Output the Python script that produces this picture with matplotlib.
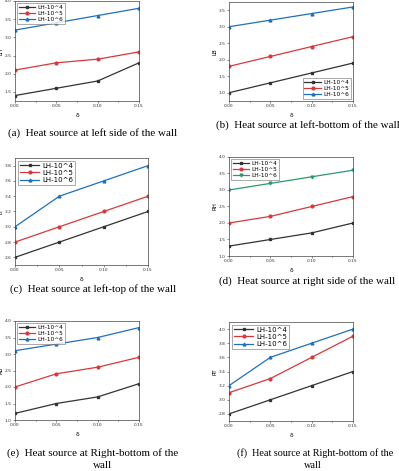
import matplotlib
matplotlib.use("Agg")
import matplotlib.pyplot as plt
from matplotlib.ticker import MultipleLocator, FormatStrFormatter

W, H = 399, 471
delta = [0.00, 0.05, 0.10, 0.15]
series_names = ["LH-10^4", "LH-10^5", "LH-10^6"]

LH = [[1.4, 1.6, 1.8, 2.3], [2.1, 2.3, 2.4, 2.6], [3.2, 3.4, 3.6, 3.8]]
LB = [[1.0, 1.3, 1.6, 1.9], [1.8, 2.1, 2.4, 2.7], [3.0, 3.2, 3.4, 3.6]]
LT = [[2.6, 2.8, 3.0, 3.2], [2.8, 3.0, 3.2, 3.4], [3.0, 3.4, 3.6, 3.8]]
RH = [[1.3, 1.5, 1.7, 2.0], [2.0, 2.2, 2.5, 2.8], [3.0, 3.2, 3.4, 3.6]]
RB = [[1.2, 1.5, 1.7, 2.1], [2.0, 2.4, 2.6, 2.9], [3.1, 3.3, 3.5, 3.8]]
RT = [[2.8, 3.0, 3.2, 3.4], [3.1, 3.3, 3.6, 3.9], [3.2, 3.6, 3.8, 4.0]]

captions = [
    ["(a)  Heat source at left side of the wall"],
    ["(b)  Heat source at left-bottom of the wall"],
    ["(c)  Heat source at left-top of the wall"],
    ["(d)  Heat source at right side of the wall"],
    ["(e)  Heat source at Right-bottom of the", "wall"],
    ["(f)  Heat source at Right-bottom of the", "wall"],
]

fig = plt.figure(figsize=(W / 100, H / 100), dpi=100)

def box(l, r, t, b):
    return [l / W, 1 - b / H, (r - l) / W, (b - t) / H]

panels = [
    dict(data=LH, lab="LH", rect=box(15, 139, 1, 101), ylim=(1.25, 4.0), ymaj=0.5,
         third="#1f6fc0", loc="upper left", cap=[(93, 133)], cfs=7.9),
    dict(data=LB, lab="LB", rect=box(229, 353, 2, 101), ylim=(0.75, 3.75), ymaj=0.5,
         third="#1f6fc0", loc="lower right", cap=[(308, 125)], cfs=7.9),
    dict(data=LT, lab="LT", rect=box(15, 148, 158, 265), ylim=(2.5, 3.9), ymaj=0.2,
         third="#1f6fc0", loc="upper left", cap=[(93, 289)], cfs=7.9),
    dict(data=RH, lab="RH", rect=box(229, 353, 157, 256), ylim=(1.0, 4.0), ymaj=0.5,
         third="#2a9a6a", loc="upper left", cap=[(307, 281)], cfs=7.9),
    dict(data=RB, lab="RB", rect=box(15, 139, 321, 420), ylim=(1.0, 4.0), ymaj=0.5,
         third="#1f6fc0", loc="upper left", cap=[(93, 453), (103, 465)], cfs=7.9),
    dict(data=RT, lab="RT", rect=box(229, 353, 322, 421), ylim=(2.7, 4.1), ymaj=0.2,
         third="#1f6fc0", loc="upper left", cap=[(315, 453), (313, 466)], cfs=7.3),
]

markers = ["s", "o", "^"]
for i, p in enumerate(panels):
    ax = fig.add_axes(p["rect"])
    colors = ["#333333", "#d9383a", p["third"]]
    mk = list(markers)
    if p["lab"] == "RH":
        mk[2] = "v"
    for k in range(3):
        ax.plot(delta, p["data"][k], color=colors[k], marker=mk[k], markersize=2.0,
                linewidth=0.9, label=series_names[k])
    ax.set_xlim(0.0, 0.15)
    ax.set_ylim(*p["ylim"])
    ax.set_xticks(delta)
    ax.xaxis.set_minor_locator(MultipleLocator(0.025))
    ax.yaxis.set_major_locator(MultipleLocator(p["ymaj"]))
    ax.yaxis.set_major_formatter(FormatStrFormatter("%.1f"))
    ax.xaxis.set_major_formatter(FormatStrFormatter("%.2f"))
    ax.tick_params(labelsize=3.2, length=1.5, width=0.4, pad=1.0, colors="#333333")
    ax.tick_params(which="minor", length=1.0, width=0.4)
    for s in ax.spines.values():
        s.set_linewidth(0.5)
        s.set_color("#444444")
    ax.set_ylabel(p["lab"], fontsize=4.0, labelpad=0.5)
    ax.set_xlabel("δ", fontsize=4.2, labelpad=3)
    fs = 5.0 if p["lab"] in ("LT", "RT") else 4.2
    leg = ax.legend(loc=p["loc"], fontsize=fs, frameon=True, fancybox=False,
                    edgecolor="#444444", handlelength=2.8, borderpad=0.3,
                    labelspacing=0.15, handletextpad=0.4, borderaxespad=0.4)
    leg.get_frame().set_linewidth(0.4)
    for (cx, cy), line in zip(p["cap"], captions[i]):
        fig.text(cx / W, 1 - cy / H, line, ha="center", va="center",
                 family="Liberation Serif", fontsize=p["cfs"])

fig.savefig("out.png", dpi=100)
